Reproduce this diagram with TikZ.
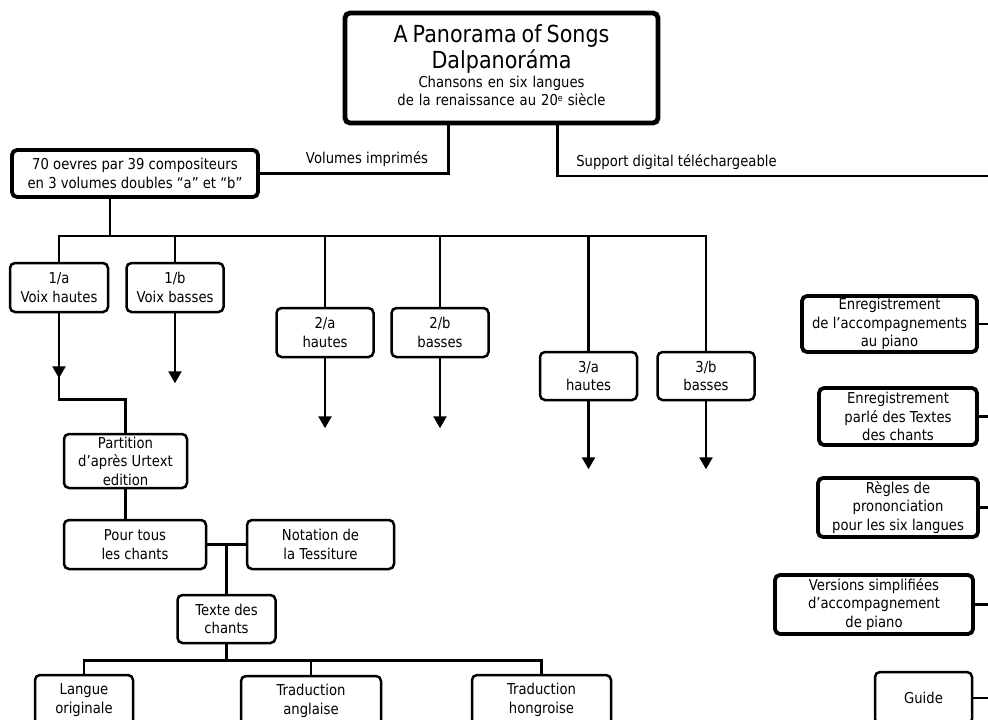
\documentclass[tikz,border=0pt]{standalone}
\usepackage{fontspec}
\setmainfont{DejaVu Sans}[FakeStretch=0.88]
\usetikzlibrary{arrows.meta,calc}
\begin{document}
\begin{tikzpicture}[x=1pt,y=-1pt,
  line width=2.6pt,
  box/.style={draw,line width=2.5pt,rounded corners=5pt,fill=white,align=center,inner sep=0pt,
    font=\fontsize{15}{18.5}\selectfont},
  bigbox/.style={box,line width=3.8pt},
  arr/.style={-{Triangle[width=13pt,length=12pt]}},
  lbl/.style={font=\fontsize{15}{16}\selectfont,inner sep=0pt}]
\useasboundingbox (0,0) rectangle (988,720);
\fill[white] (0,0) rectangle (988,720);
\coordinate (E) at (992,0);
% top
\node[bigbox,line width=4.8pt,minimum width=313pt,minimum height=110pt,text width=300pt] (top) at (501.5,68)
  {\fontsize{23.5}{26}\selectfont A Panorama of Songs\\Dalpanoráma\\[1pt]
   \fontsize{15}{18}\selectfont Chansons en six langues\\de la renaissance au 20{\fontsize{9}{9}\selectfont\raisebox{4pt}{e}} siècle\par\vspace{6pt}\hrule height 0pt width 0pt};
\node[bigbox,minimum width=246pt,minimum height=47pt] (vol) at (135,173.5)
  {70 oevres par 39 compositeurs\\en 3 volumes doubles “a” et “b”};
\draw ([xshift=-53pt]top.south) |- (vol.east);
\draw ([xshift=56pt]top.south) |- (E |- 0,176);
\node[lbl] (lv) at (367,159) {Volumes imprimés};
\node[lbl,anchor=west] (ls) at (575,162) {Support digital téléchargeable};
% volumes
\node[box,minimum width=98pt,minimum height=49pt] (n1a) at (59,287.5) {1/a\\Voix hautes};
\node[box,minimum width=97pt,minimum height=49pt] (n1b) at (175,287.5) {1/b\\Voix basses};
\node[box,minimum width=97pt,minimum height=49pt] (n2a) at (325,332.5) {2/a\\hautes};
\node[box,minimum width=97pt,minimum height=49pt] (n2b) at (440,332.5) {2/b\\basses};
\node[box,minimum width=97pt,minimum height=48pt] (n3a) at (588.5,376) {3/a\\hautes};
\node[box,minimum width=97pt,minimum height=48pt] (n3b) at (706,376) {3/b\\basses};
\draw ([xshift=-25pt]vol.south) -- ++(0,37) coordinate (bus);
\draw (n1a.north) |- (bus) -| (n3b.north);
\foreach \n in {n1b,n2a,n2b,n3a} \draw (\n.north) |- (bus);
\draw[arr] (n1a.south) -- ++(0,65);
\draw[arr] (n1b.south) -- ++(0,70);
\draw[arr] (n2a.south) -- ++(0,70);
\draw[arr] (n2b.south) -- ++(0,70);
\draw[arr] (n3a.south) -- ++(0,68);
\draw[arr] (n3b.south) -- ++(0,68);
% partition tree
\node[box,minimum width=123pt,minimum height=54pt] (part) at (125.5,461) {Partition\\d’après Urtext\\edition};
\draw (n1a.south) -- ++(0,86) -| (part.north);
\node[box,minimum width=142pt,minimum height=49pt] (pour) at (135,544.5) {Pour tous\\les chants};
\node[box,minimum width=147pt,minimum height=49pt] (nota) at (320.5,544.5) {Notation de\\la Tessiture};
\draw (part.south) -- (part.south |- pour.north);
\draw (pour.east) -- (nota.west);
\node[box,minimum width=98pt,minimum height=48pt] (texte) at (226.5,619) {Texte des\\chants};
\draw (texte.north |- pour.east) -- (texte.north);
\node[box,minimum width=98pt,minimum height=50pt] (lang) at (84,700) {Langue\\originale};
\node[box,minimum width=140pt,minimum height=50pt] (tang) at (311,701) {Traduction\\anglaise};
\node[box,minimum width=139pt,minimum height=50pt] (thon) at (541.5,700) {Traduction\\hongroise};
\draw (texte.south) -- ++(0,16) coordinate (bus2);
\draw (lang.north) |- (bus2) -| (thon.north);
\draw (tang.north) |- (bus2);
% right column
\node[bigbox,minimum width=175pt,minimum height=56pt] (r1) at (889.5,324) {Enregistrement\\de l’accompagnements\\au piano};
\node[bigbox,minimum width=158pt,minimum height=57pt] (r2) at (898,416.5) {Enregistrement\\parlé des Textes\\des chants};
\node[bigbox,minimum width=160pt,minimum height=59pt] (r3) at (898,507.5) {Règles de\\prononciation\\pour les six langues};
\node[bigbox,minimum width=198pt,minimum height=59pt] (r4) at (874,604.5) {Versions simplifiées\\d’accompagnement\\de piano};
\node[box,minimum width=97pt,minimum height=52pt] (guide) at (923.5,698) {Guide};
\foreach \n in {r1,r2,r3,r4,guide} \draw (\n.east) -- (\n.east -| E);
\end{tikzpicture}
\end{document}
